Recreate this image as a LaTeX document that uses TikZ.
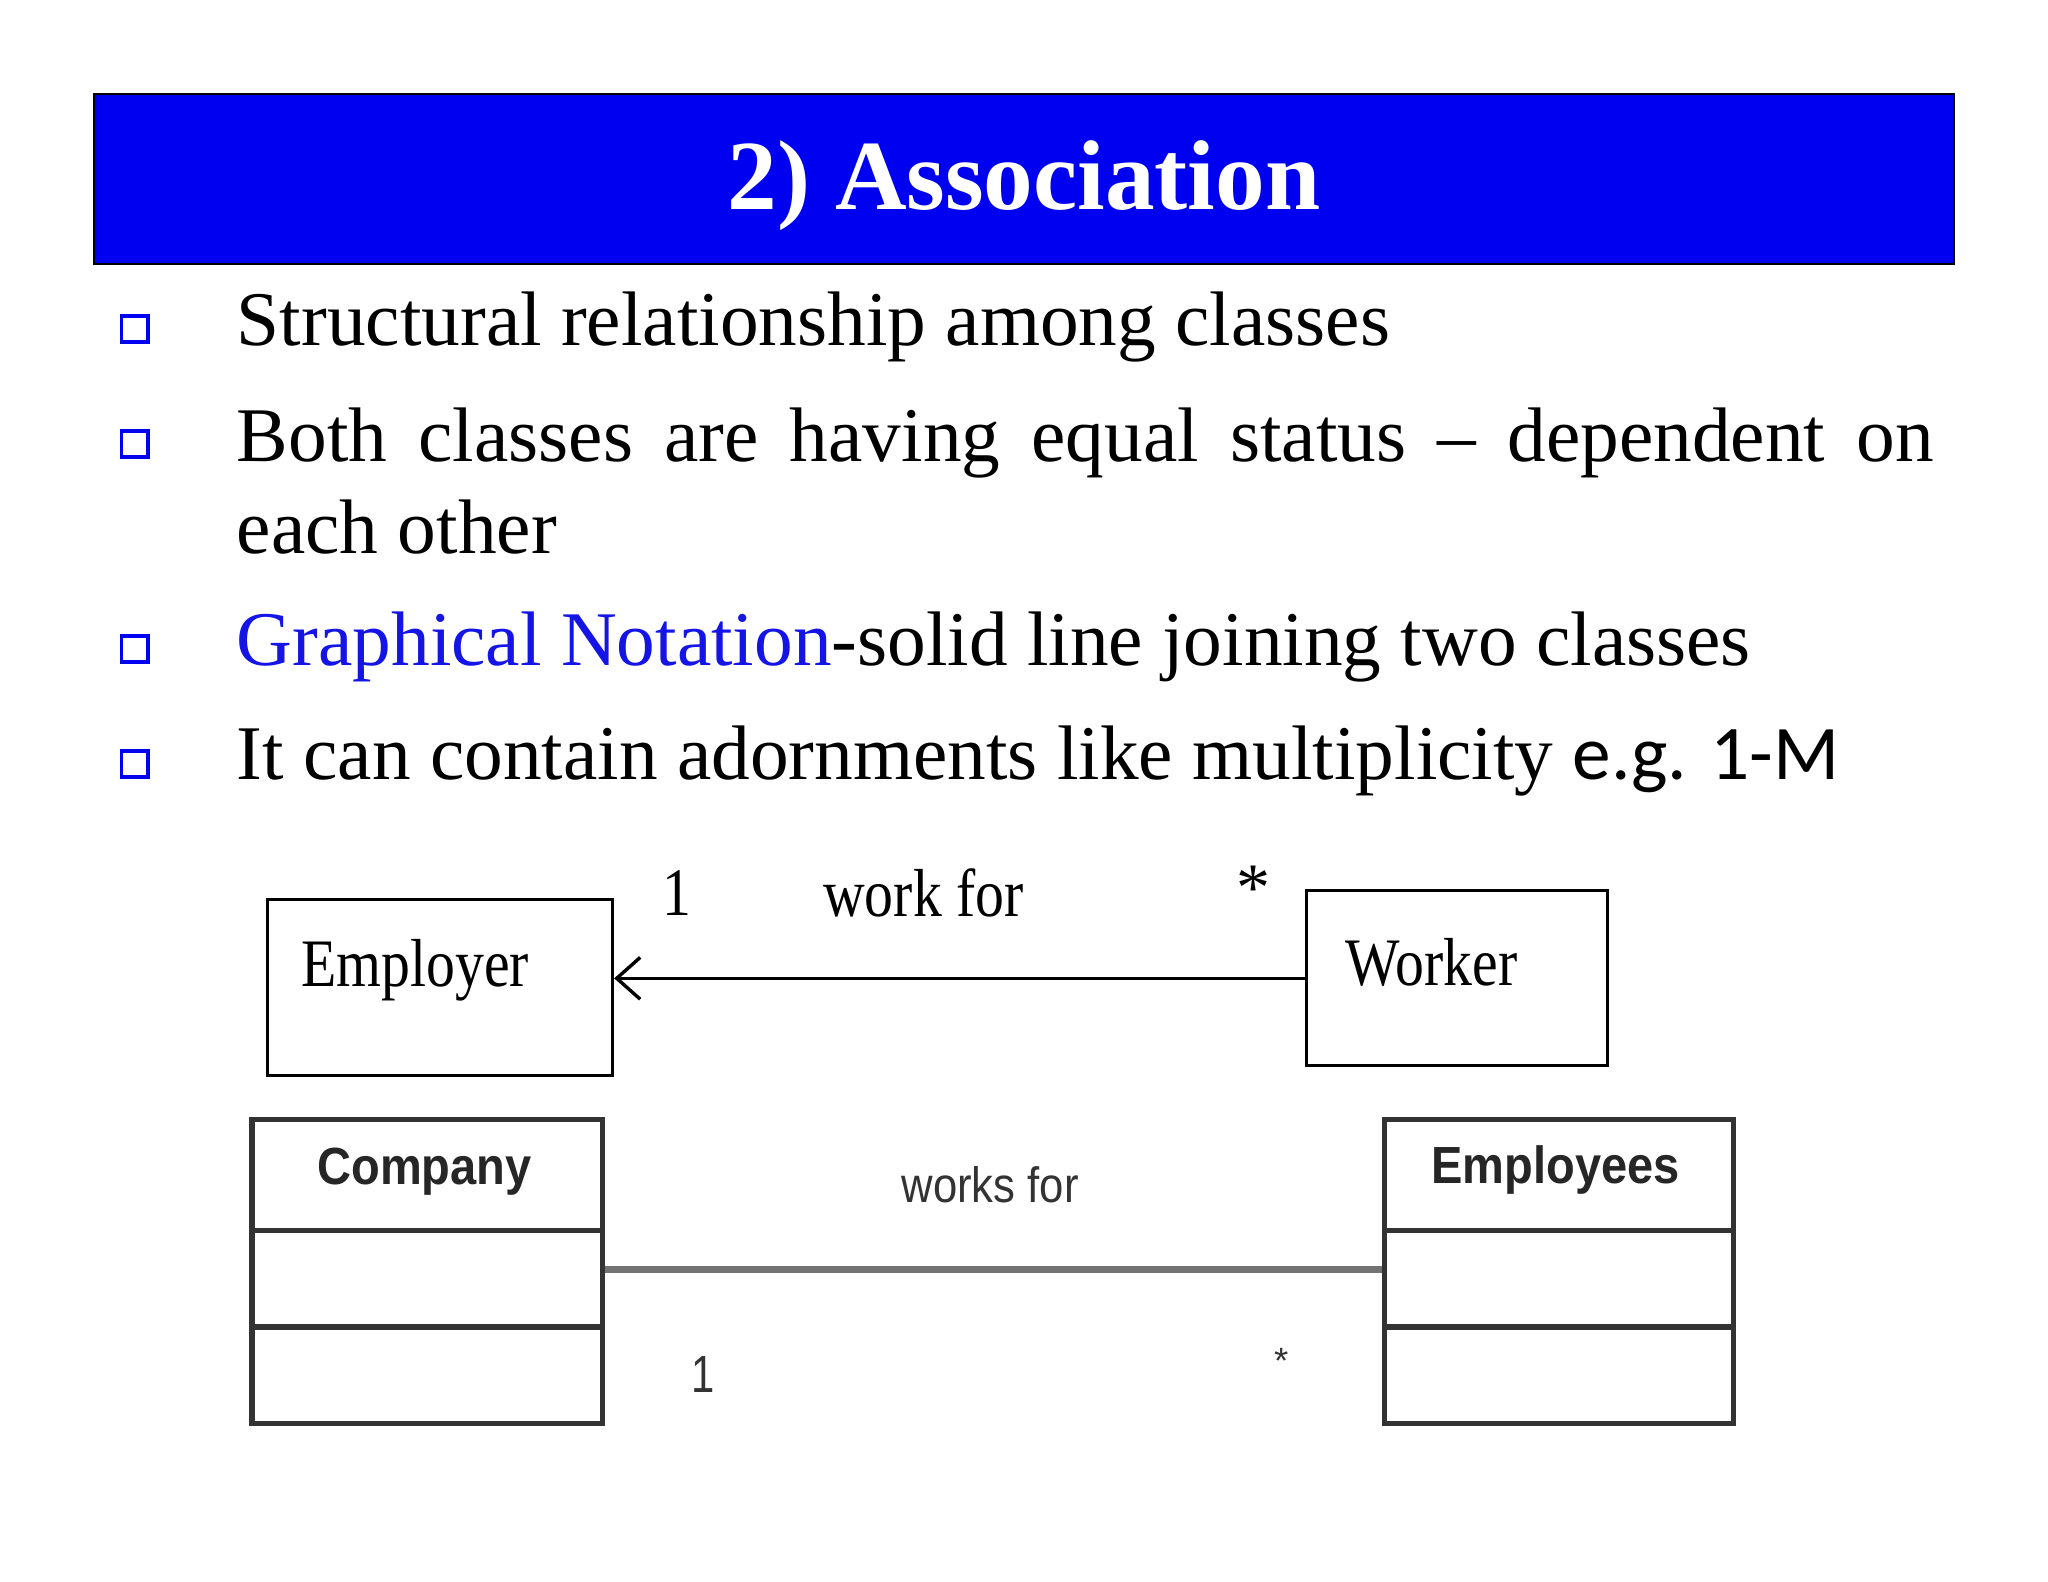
\documentclass[tikz,border=0pt]{standalone}
\usepackage{fontspec}
\usetikzlibrary{arrows.meta}
\setmainfont{Liberation Serif}
\newfontfamily\arialf{Liberation Sans}
\newfontfamily\calib{Carlito}
\definecolor{titleblue}{RGB}{0,0,240}
\definecolor{linkblue}{RGB}{20,20,230}
\begin{document}
\begin{tikzpicture}[x=0.5pt,y=-0.5pt,
  bul/.style={draw=titleblue,line width=1.5pt,minimum size=10pt,inner sep=0pt},
  body/.style={anchor=west,inner sep=0pt,font=\fontsize{29.6}{36}\selectfont},
  cls/.style={draw,line width=1.2pt},
  uml/.style={draw=black!80,line width=2pt}]
\useasboundingbox (0,0) rectangle (1568,1211);
\fill[white] (0,0) rectangle (1568,1211);
\node[draw=black,fill=titleblue,line width=1pt,minimum width=712pt,minimum height=65pt,inner sep=0pt] (title) at (784,137) {};
\node[text=white,font=\fontsize{38}{44}\selectfont\bfseries] (tt) at (784,142) {2) Association};
\foreach \n/\y in {b1/252,b2/340,b3/497,b4/585}{
  \node[bul] (\n) at (103,\y) {};
}
\node[body] (t1) at (181,250) {Structural relationship among classes};
\node[anchor=north west,inner sep=0pt,text width=649.5pt,align=justify,font=\fontsize{29.6}{35}\selectfont] (t2) at (181,312) {Both classes are having equal status -- dependent on\linebreak each other};
\node[body] (t3) at (181,495) {\textcolor{linkblue}{Graphical Notation}-solid line joining two classes};
\node[body] (t4) at (181,583) {It can contain adornments like multiplicity {\calib e.g. 1-M}};
% top association
\node[cls,minimum width=132pt,minimum height=67.5pt,inner sep=0pt] (emp) at (337,756) {};
\node[font=\fontsize{26}{30}\selectfont] (empt) at (318,743) {\scalebox{0.85}[1]{Employer}};
\node[cls,minimum width=115.5pt,minimum height=67pt,inner sep=0pt] (wrk) at (1115.5,749) {};
\node[font=\fontsize{26}{30}\selectfont] (wrkt) at (1096,737) {\scalebox{0.85}[1]{Worker}};
\draw[line width=1.3pt,-{Straight Barb[length=9pt,width=16pt,line width=1.3pt]}] (wrk.west) -- (wrk.west -| emp.east);
\node[font=\fontsize{26}{30}\selectfont] (m1) at (518,684) {\scalebox{0.85}[1]{1}};
\node[font=\fontsize{26}{30}\selectfont] (lab1) at (707,684) {\scalebox{0.85}[1]{work for}};
\node[font=\fontsize{26}{30}\selectfont] (m2) at (960,680) {*};
% bottom association
\node[uml,minimum width=134pt,minimum height=116.5pt,inner sep=0pt] (comp) at (327,973.5) {};
\draw[uml] (193,942) -- (461,942) (193,1016) -- (461,1016);
\node[font=\arialf\bfseries\fontsize{20}{24}\selectfont,text=black!85] (compt) at (325,897) {\scalebox{0.9}[1]{Company}};
\node[uml,minimum width=133.5pt,minimum height=116.5pt,inner sep=0pt] (empl) at (1193.5,973.5) {};
\draw[uml] (1060,942) -- (1327,942) (1060,1016) -- (1327,1016);
\node[font=\arialf\bfseries\fontsize{20}{24}\selectfont,text=black!85] (emplt) at (1191,896) {\scalebox{0.9}[1]{Employees}};
\draw[black!55,line width=2.5pt] (comp.east) ++(0,-1.5) -- ([yshift=0.75pt]empl.west);
\node[font=\arialf\fontsize{19}{24}\selectfont,text=black!80] (lab2) at (758,907) {\scalebox{0.88}[1]{works for}};
\node[font=\arialf\fontsize{20}{24}\selectfont,text=black!80] (n1) at (538,1052) {\scalebox{0.8}[1]{1}};
\node[font=\arialf\fontsize{14}{16}\selectfont,text=black!80] (n2) at (981,1042) {*};
\end{tikzpicture}
\end{document}
